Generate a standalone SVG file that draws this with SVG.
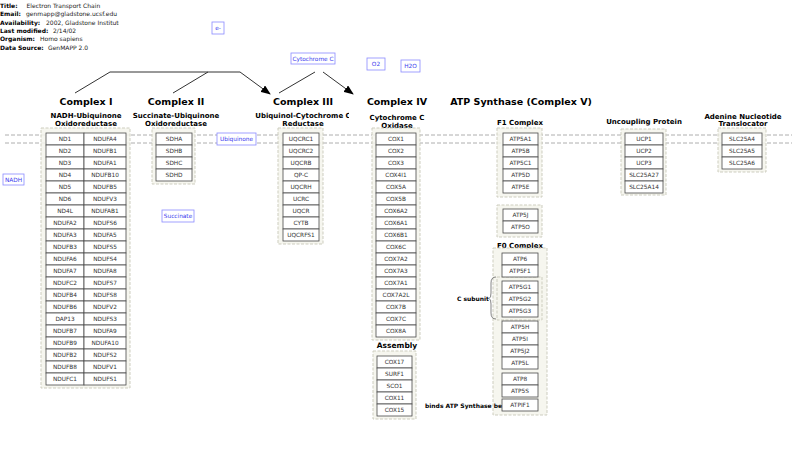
<svg xmlns="http://www.w3.org/2000/svg" width="800" height="454" viewBox="0 0 800 454">
<style>
text{font-family:"DejaVu Sans","Liberation Sans",sans-serif}
.hb{font-size:6px;font-weight:bold;fill:#000}
.hv{font-size:6px;fill:#222}
.grp{fill:#f4f4ec;fill-opacity:0.85;stroke:#cdcdbf;stroke-width:1;stroke-dasharray:3 1.5}
.c{fill:#fff;stroke:#4a4a4a;stroke-width:0.8}
.ct{font-size:5.8px;fill:#333;text-anchor:middle}
.h1{font-size:9.5px;font-weight:bold;fill:#000;text-anchor:middle}
.h2{font-size:7px;font-weight:bold;fill:#000;text-anchor:middle}
.lb{fill:#fff;stroke:#8a8aff;stroke-width:0.8}
.lt{font-size:5.8px;fill:#3a3aee;text-anchor:middle}
.sm{font-size:6px;font-weight:bold;fill:#000}
.mem{stroke:#999;stroke-width:0.8;stroke-dasharray:4 2;fill:none}
.ar{stroke:#333;stroke-width:1;fill:none}
</style>
<defs>
<marker id="ah" markerUnits="userSpaceOnUse" markerWidth="10" markerHeight="8" refX="9" refY="4" orient="auto"><path d="M0,0 L10,4 L0,8 z" fill="#000"/></marker>
<clipPath id="clipH"><rect x="0" y="0" width="119" height="60"/></clipPath>
<clipPath id="clipIII"><rect x="240" y="105" width="109" height="25"/></clipPath>
<clipPath id="clipCyt"><rect x="291" y="53" width="44" height="11"/></clipPath>
</defs>

<g id="header" clip-path="url(#clipH)">
<text class="hb" x="0" y="8">Title:</text><text class="hv" x="26.5" y="8">Electron Transport Chain</text>
<text class="hb" x="0" y="16.3">Email:</text><text class="hv" x="26" y="16.3">genmapp@gladstone.ucsf.edu</text>
<text class="hb" x="0" y="24.6">Availability:</text><text class="hv" x="46" y="24.6">2002, Gladstone Institute</text>
<text class="hb" x="0" y="32.9">Last modified:</text><text class="hv" x="53" y="32.9">2/14/02</text>
<text class="hb" x="0" y="41.2">Organism:</text><text class="hv" x="40" y="41.2">Homo sapiens</text>
<text class="hb" x="0" y="49.5">Data Source:</text><text class="hv" x="48" y="49.5">GenMAPP 2.0</text>
</g>

<g id="membrane">
<line class="mem" x1="5" y1="135" x2="792" y2="135"/>
<line class="mem" x1="5" y1="143" x2="792" y2="143"/>
</g>

<g id="connectors">
<path class="ar" d="M75,93 L110,72 L240,72 L270,94" marker-end="url(#ah)"/>
<path class="ar" d="M208,72 L173,93"/>
<path class="ar" d="M279,93 L315,72"/>
<path class="ar" d="M323,72 L353,94" marker-end="url(#ah)"/>
</g>

<g id="labels">
<g id="lbl-e"><rect class="lb" x="212" y="22" width="12" height="12"/><text class="lt" x="218" y="30">e-</text></g>
<g id="lbl-cytc"><rect class="lb" x="291" y="53" width="44" height="11"/><text class="lt" x="313" y="60.5" clip-path="url(#clipCyt)">Cytochrome C</text></g>
<g id="lbl-o2"><rect class="lb" x="367" y="58" width="18" height="12"/><text class="lt" x="376" y="66">O2</text></g>
<g id="lbl-h2o"><rect class="lb" x="401" y="60" width="19" height="12"/><text class="lt" x="410.5" y="68.3">H2O</text></g>
<g id="lbl-ubi"><rect class="lb" x="217" y="133" width="39" height="12"/><text class="lt" x="236.5" y="141">Ubiquinone</text></g>
<g id="lbl-succ"><rect class="lb" x="162" y="210" width="32" height="12"/><text class="lt" x="178" y="218">Succinate</text></g>
<g id="lbl-nadh"><rect class="lb" x="3" y="174" width="21" height="11"/><text class="lt" x="13.5" y="181.5">NADH</text></g>
</g>

<g id="complex1">
<text class="h1" x="86" y="104.5">Complex I</text>
<text class="h2" x="86" y="117.5">NADH-Ubiquinone</text>
<text class="h2" x="86" y="125.5">Oxidoreductase</text>
<rect class="grp" x="41" y="128" width="89" height="260"/>
<g id="c1-col1">
<rect class="c" x="46" y="133" width="38" height="12"/><text class="ct" x="65" y="141">ND1</text>
<rect class="c" x="46" y="145" width="38" height="12"/><text class="ct" x="65" y="153">ND2</text>
<rect class="c" x="46" y="157" width="38" height="12"/><text class="ct" x="65" y="165">ND3</text>
<rect class="c" x="46" y="169" width="38" height="12"/><text class="ct" x="65" y="177">ND4</text>
<rect class="c" x="46" y="181" width="38" height="12"/><text class="ct" x="65" y="189">ND5</text>
<rect class="c" x="46" y="193" width="38" height="12"/><text class="ct" x="65" y="201">ND6</text>
<rect class="c" x="46" y="205" width="38" height="12"/><text class="ct" x="65" y="213">ND4L</text>
<rect class="c" x="46" y="217" width="38" height="12"/><text class="ct" x="65" y="225">NDUFA2</text>
<rect class="c" x="46" y="229" width="38" height="12"/><text class="ct" x="65" y="237">NDUFA3</text>
<rect class="c" x="46" y="241" width="38" height="12"/><text class="ct" x="65" y="249">NDUFB3</text>
<rect class="c" x="46" y="253" width="38" height="12"/><text class="ct" x="65" y="261">NDUFA6</text>
<rect class="c" x="46" y="265" width="38" height="12"/><text class="ct" x="65" y="273">NDUFA7</text>
<rect class="c" x="46" y="277" width="38" height="12"/><text class="ct" x="65" y="285">NDUFC2</text>
<rect class="c" x="46" y="289" width="38" height="12"/><text class="ct" x="65" y="297">NDUFB4</text>
<rect class="c" x="46" y="301" width="38" height="12"/><text class="ct" x="65" y="309">NDUFB6</text>
<rect class="c" x="46" y="313" width="38" height="12"/><text class="ct" x="65" y="321">DAP13</text>
<rect class="c" x="46" y="325" width="38" height="12"/><text class="ct" x="65" y="333">NDUFB7</text>
<rect class="c" x="46" y="337" width="38" height="12"/><text class="ct" x="65" y="345">NDUFB9</text>
<rect class="c" x="46" y="349" width="38" height="12"/><text class="ct" x="65" y="357">NDUFB2</text>
<rect class="c" x="46" y="361" width="38" height="12"/><text class="ct" x="65" y="369">NDUFB8</text>
<rect class="c" x="46" y="373" width="38" height="12"/><text class="ct" x="65" y="381">NDUFC1</text>
</g>
<g id="c1-col2">
<rect class="c" x="84" y="133" width="42" height="12"/><text class="ct" x="105" y="141">NDUFA4</text>
<rect class="c" x="84" y="145" width="42" height="12"/><text class="ct" x="105" y="153">NDUFB1</text>
<rect class="c" x="84" y="157" width="42" height="12"/><text class="ct" x="105" y="165">NDUFA1</text>
<rect class="c" x="84" y="169" width="42" height="12"/><text class="ct" x="105" y="177">NDUFB10</text>
<rect class="c" x="84" y="181" width="42" height="12"/><text class="ct" x="105" y="189">NDUFB5</text>
<rect class="c" x="84" y="193" width="42" height="12"/><text class="ct" x="105" y="201">NDUFV3</text>
<rect class="c" x="84" y="205" width="42" height="12"/><text class="ct" x="105" y="213">NDUFAB1</text>
<rect class="c" x="84" y="217" width="42" height="12"/><text class="ct" x="105" y="225">NDUFS6</text>
<rect class="c" x="84" y="229" width="42" height="12"/><text class="ct" x="105" y="237">NDUFA5</text>
<rect class="c" x="84" y="241" width="42" height="12"/><text class="ct" x="105" y="249">NDUFS5</text>
<rect class="c" x="84" y="253" width="42" height="12"/><text class="ct" x="105" y="261">NDUFS4</text>
<rect class="c" x="84" y="265" width="42" height="12"/><text class="ct" x="105" y="273">NDUFA8</text>
<rect class="c" x="84" y="277" width="42" height="12"/><text class="ct" x="105" y="285">NDUFS7</text>
<rect class="c" x="84" y="289" width="42" height="12"/><text class="ct" x="105" y="297">NDUFS8</text>
<rect class="c" x="84" y="301" width="42" height="12"/><text class="ct" x="105" y="309">NDUFV2</text>
<rect class="c" x="84" y="313" width="42" height="12"/><text class="ct" x="105" y="321">NDUFS3</text>
<rect class="c" x="84" y="325" width="42" height="12"/><text class="ct" x="105" y="333">NDUFA9</text>
<rect class="c" x="84" y="337" width="42" height="12"/><text class="ct" x="105" y="345">NDUFA10</text>
<rect class="c" x="84" y="349" width="42" height="12"/><text class="ct" x="105" y="357">NDUFS2</text>
<rect class="c" x="84" y="361" width="42" height="12"/><text class="ct" x="105" y="369">NDUFV1</text>
<rect class="c" x="84" y="373" width="42" height="12"/><text class="ct" x="105" y="381">NDUFS1</text>
</g>
</g>

<g id="complex2">
<text class="h1" x="176" y="104.5">Complex II</text>
<text class="h2" x="176" y="117.5">Succinate-Ubiquinone</text>
<text class="h2" x="176" y="125.5">Oxidoreductase</text>
<rect class="grp" x="152" y="128" width="43" height="56"/>
<rect class="c" x="156" y="133" width="36" height="12"/><text class="ct" x="174" y="141">SDHA</text>
<rect class="c" x="156" y="145" width="36" height="12"/><text class="ct" x="174" y="153">SDHB</text>
<rect class="c" x="156" y="157" width="36" height="12"/><text class="ct" x="174" y="165">SDHC</text>
<rect class="c" x="156" y="169" width="36" height="12"/><text class="ct" x="174" y="177">SDHD</text>
</g>

<g id="complex3">
<text class="h1" x="303" y="104.5">Complex III</text>
<text class="h2" x="303" y="117.5" clip-path="url(#clipIII)">Ubiquinol-Cytochrome C</text>
<text class="h2" x="303" y="125.5">Reductase</text>
<rect class="grp" x="278" y="128" width="45" height="116"/>
<rect class="c" x="283" y="133" width="36" height="12"/><text class="ct" x="301" y="141">UQCRC1</text>
<rect class="c" x="283" y="145" width="36" height="12"/><text class="ct" x="301" y="153">UQCRC2</text>
<rect class="c" x="283" y="157" width="36" height="12"/><text class="ct" x="301" y="165">UQCRB</text>
<rect class="c" x="283" y="169" width="36" height="12"/><text class="ct" x="301" y="177">QP-C</text>
<rect class="c" x="283" y="181" width="36" height="12"/><text class="ct" x="301" y="189">UQCRH</text>
<rect class="c" x="283" y="193" width="36" height="12"/><text class="ct" x="301" y="201">UCRC</text>
<rect class="c" x="283" y="205" width="36" height="12"/><text class="ct" x="301" y="213">UQCR</text>
<rect class="c" x="283" y="217" width="36" height="12"/><text class="ct" x="301" y="225">CYTB</text>
<rect class="c" x="283" y="229" width="36" height="12"/><text class="ct" x="301" y="237">UQCRFS1</text>
</g>

<g id="complex4">
<text class="h1" x="397" y="104.5">Complex IV</text>
<text class="h2" x="397" y="119.5">Cytochrome C</text>
<text class="h2" x="397" y="127.5">Oxidase</text>
<rect class="grp" x="372" y="128" width="48" height="212"/>
<rect class="c" x="376" y="133" width="40" height="12"/><text class="ct" x="396" y="141">COX1</text>
<rect class="c" x="376" y="145" width="40" height="12"/><text class="ct" x="396" y="153">COX2</text>
<rect class="c" x="376" y="157" width="40" height="12"/><text class="ct" x="396" y="165">COX3</text>
<rect class="c" x="376" y="169" width="40" height="12"/><text class="ct" x="396" y="177">COX4I1</text>
<rect class="c" x="376" y="181" width="40" height="12"/><text class="ct" x="396" y="189">COX5A</text>
<rect class="c" x="376" y="193" width="40" height="12"/><text class="ct" x="396" y="201">COX5B</text>
<rect class="c" x="376" y="205" width="40" height="12"/><text class="ct" x="396" y="213">COX6A2</text>
<rect class="c" x="376" y="217" width="40" height="12"/><text class="ct" x="396" y="225">COX6A1</text>
<rect class="c" x="376" y="229" width="40" height="12"/><text class="ct" x="396" y="237">COX6B1</text>
<rect class="c" x="376" y="241" width="40" height="12"/><text class="ct" x="396" y="249">COX6C</text>
<rect class="c" x="376" y="253" width="40" height="12"/><text class="ct" x="396" y="261">COX7A2</text>
<rect class="c" x="376" y="265" width="40" height="12"/><text class="ct" x="396" y="273">COX7A3</text>
<rect class="c" x="376" y="277" width="40" height="12"/><text class="ct" x="396" y="285">COX7A1</text>
<rect class="c" x="376" y="289" width="40" height="12"/><text class="ct" x="396" y="297">COX7A2L</text>
<rect class="c" x="376" y="301" width="40" height="12"/><text class="ct" x="396" y="309">COX7B</text>
<rect class="c" x="376" y="313" width="40" height="12"/><text class="ct" x="396" y="321">COX7C</text>
<rect class="c" x="376" y="325" width="40" height="12"/><text class="ct" x="396" y="333">COX8A</text>
</g>

<g id="assembly">
<text class="h2" x="397" y="348" style="font-size:7.5px">Assembly</text>
<rect class="grp" x="373" y="351" width="43" height="68"/>
<rect class="c" x="377" y="356" width="35" height="12"/><text class="ct" x="394.5" y="364">COX17</text>
<rect class="c" x="377" y="368" width="35" height="12"/><text class="ct" x="394.5" y="376">SURF1</text>
<rect class="c" x="377" y="380" width="35" height="12"/><text class="ct" x="394.5" y="388">SCO1</text>
<rect class="c" x="377" y="392" width="35" height="12"/><text class="ct" x="394.5" y="400">COX11</text>
<rect class="c" x="377" y="404" width="35" height="12"/><text class="ct" x="394.5" y="412">COX15</text>
</g>

<g id="complex5">
<text class="h1" x="521" y="104.5">ATP Synthase (Complex V)</text>
</g>

<g id="f1">
<text class="h2" x="520" y="124.5">F1 Complex</text>
<rect class="grp" x="497" y="128" width="45" height="69"/>
<rect class="c" x="503" y="133" width="35" height="12"/><text class="ct" x="520.5" y="141">ATP5A1</text>
<rect class="c" x="503" y="145" width="35" height="12"/><text class="ct" x="520.5" y="153">ATP5B</text>
<rect class="c" x="503" y="157" width="35" height="12"/><text class="ct" x="520.5" y="165">ATP5C1</text>
<rect class="c" x="503" y="169" width="35" height="12"/><text class="ct" x="520.5" y="177">ATP5D</text>
<rect class="c" x="503" y="181" width="35" height="12"/><text class="ct" x="520.5" y="189">ATP5E</text>
</g>

<g id="stalk">
<rect class="grp" x="497" y="205" width="45" height="32"/>
<rect class="c" x="503" y="209" width="35" height="12"/><text class="ct" x="520.5" y="217">ATP5J</text>
<rect class="c" x="503" y="221" width="35" height="12"/><text class="ct" x="520.5" y="229">ATP5O</text>
</g>

<g id="f0">
<text class="h2" x="520" y="247.5">F0 Complex</text>
<rect class="grp" x="493" y="248" width="54" height="167"/>
<rect class="grp" x="497" y="277" width="45" height="43"/>
<rect class="c" x="502" y="253" width="36" height="12"/><text class="ct" x="520" y="261">ATP6</text>
<rect class="c" x="502" y="265" width="36" height="12"/><text class="ct" x="520" y="273">ATP5F1</text>
<rect class="c" x="502" y="281" width="36" height="12"/><text class="ct" x="520" y="289">ATP5G1</text>
<rect class="c" x="502" y="293" width="36" height="12"/><text class="ct" x="520" y="301">ATP5G2</text>
<rect class="c" x="502" y="305" width="36" height="12"/><text class="ct" x="520" y="313">ATP5G3</text>
<rect class="c" x="502" y="321" width="36" height="12"/><text class="ct" x="520" y="329">ATP5H</text>
<rect class="c" x="502" y="333" width="36" height="12"/><text class="ct" x="520" y="341">ATP5I</text>
<rect class="c" x="502" y="345" width="36" height="12"/><text class="ct" x="520" y="353">ATP5J2</text>
<rect class="c" x="502" y="357" width="36" height="12"/><text class="ct" x="520" y="365">ATP5L</text>
<rect class="c" x="502" y="373" width="36" height="12"/><text class="ct" x="520" y="381">ATP8</text>
<rect class="c" x="502" y="385" width="36" height="12"/><text class="ct" x="520" y="393">ATP5S</text>
<text class="sm" x="489" y="301" text-anchor="end">C subunit</text>
<path d="M496,277 Q491,277 491,283 L491,293 Q491,298 489,298.5 Q491,299 491,304 L491,313 Q491,319 496,319" fill="none" stroke="#333" stroke-width="0.6"/>
<text class="sm" x="425" y="407.5">binds ATP Synthase be</text>
<rect class="c" x="502" y="399" width="36" height="12"/><text class="ct" x="520" y="407">ATPIF1</text>
</g>

<g id="ucp">
<text class="h2" x="644" y="123.5">Uncoupling Protein</text>
<rect class="grp" x="621" y="129" width="45" height="66"/>
<rect class="c" x="625" y="133" width="38" height="12"/><text class="ct" x="644" y="141">UCP1</text>
<rect class="c" x="625" y="145" width="38" height="12"/><text class="ct" x="644" y="153">UCP2</text>
<rect class="c" x="625" y="157" width="38" height="12"/><text class="ct" x="644" y="165">UCP3</text>
<rect class="c" x="625" y="169" width="38" height="12"/><text class="ct" x="644" y="177">SLC25A27</text>
<rect class="c" x="625" y="181" width="38" height="12"/><text class="ct" x="644" y="189">SLC25A14</text>
</g>

<g id="ant">
<text class="h2" x="743" y="118.5">Adenine Nucleotide</text>
<text class="h2" x="743" y="126">Translocator</text>
<rect class="grp" x="718" y="128" width="48" height="44"/>
<rect class="c" x="722" y="133" width="40" height="12"/><text class="ct" x="742" y="141">SLC25A4</text>
<rect class="c" x="722" y="145" width="40" height="12"/><text class="ct" x="742" y="153">SLC25A5</text>
<rect class="c" x="722" y="157" width="40" height="12"/><text class="ct" x="742" y="165">SLC25A6</text>
</g>
</svg>
